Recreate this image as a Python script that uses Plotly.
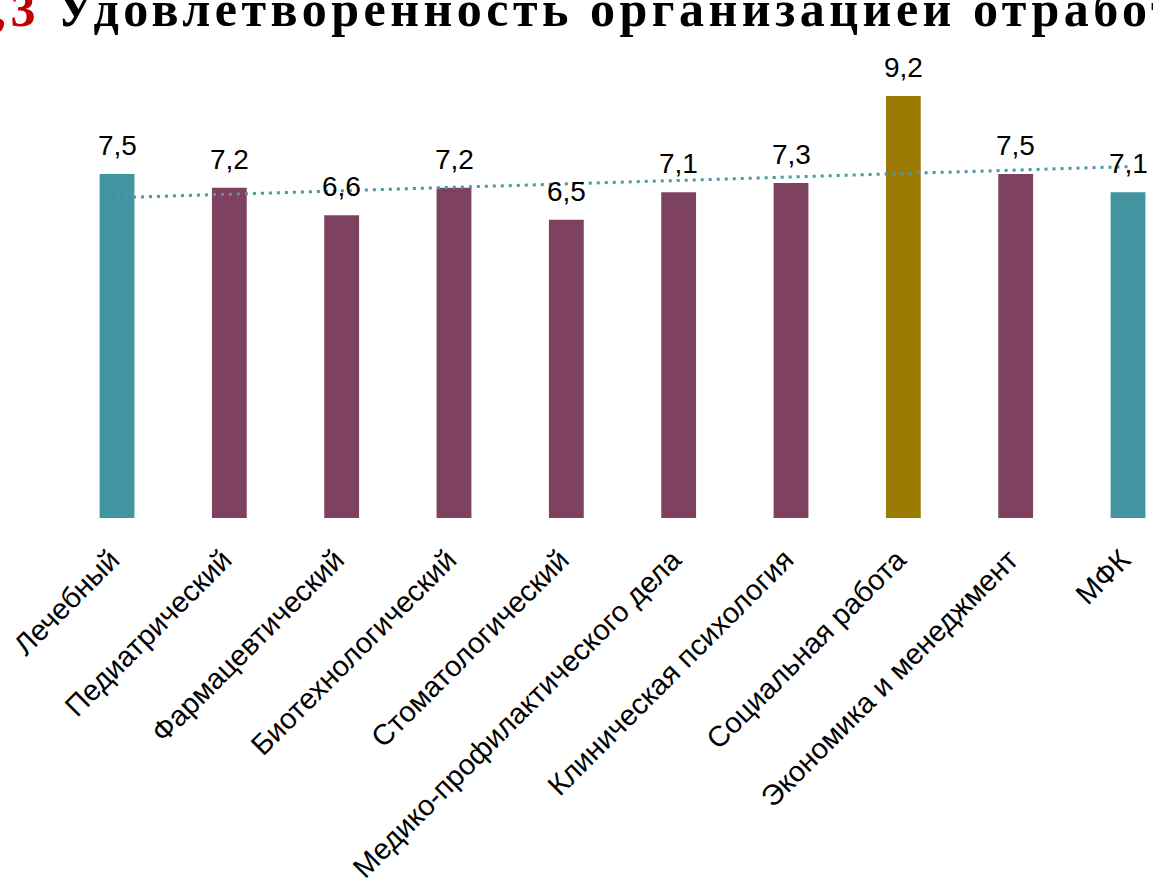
import numpy as np
import plotly.graph_objects as go

categories = ["Лечебный", "Педиатрический", "Фармацевтический", "Биотехнологический",
              "Стоматологический", "Медико-профилактического дела", "Клиническая психология",
              "Социальная работа", "Экономика и менеджмент", "МФК"]
values = [7.5, 7.2, 6.6, 7.2, 6.5, 7.1, 7.3, 9.2, 7.5, 7.1]
bar_colors = ["#4394A1", "#7F4160", "#7F4160", "#7F4160", "#7F4160",
              "#7F4160", "#7F4160", "#9C7B05", "#7F4160", "#4394A1"]
overall_score = "7,3"
title_text = "Удовлетворенность организацией отработки практических навыков"

xi = np.arange(len(values))
slope, intercept = np.polyfit(xi + 1, values, 1)
trend = intercept + slope * (xi + 1)

fig = go.Figure()
fig.add_trace(go.Bar(
    x=categories, y=values, marker=dict(color=bar_colors, line=dict(width=0)),
    width=0.31, showlegend=False, hoverinfo="x+y"))
fig.add_trace(go.Scatter(
    x=categories, y=trend, mode="lines", showlegend=False,
    line=dict(color="#4A9AA6", width=3, dash="3px,5px")))

for c, v in zip(categories, values):
    fig.add_annotation(x=c, y=v, xref="x", yref="y", text=f"{v:.1f}".replace(".", ","),
                       showarrow=False, yanchor="bottom", yshift=11,
                       font=dict(family="Liberation Sans, Arial", size=28, color="#000000"))

fig.add_annotation(
    xref="paper", yref="paper", x=-0.0515, y=1, xanchor="left", yanchor="bottom", yshift=11,
    showarrow=False, align="left",
    text=(f'<span style="letter-spacing:4.5px"><b><span style="color:#C00000">{overall_score}</span> '
          f'{title_text}</b></span>'),
    font=dict(family="Liberation Serif, Times New Roman", size=50, color="#000000"))

fig.update_layout(
    width=1153, height=880,
    margin=dict(l=20, r=0, t=50, b=362),
    plot_bgcolor="white", paper_bgcolor="white",
    xaxis=dict(range=[-0.8635, 9.2225], tickangle=-45, showgrid=False, zeroline=False,
               showline=False, ticks="", ticklabelstandoff=18, ticklabelshift=-6,
               automargin=False,
               tickfont=dict(family="Liberation Sans, Arial", size=29, color="#000000")),
    yaxis=dict(range=[0, 10.2], showgrid=False, zeroline=False, showline=False,
               showticklabels=False, ticks="", automargin=False),
)

fig.write_html("out.html", config={"displayModeBar": False},
               post_script="document.body.style.margin='0';")
